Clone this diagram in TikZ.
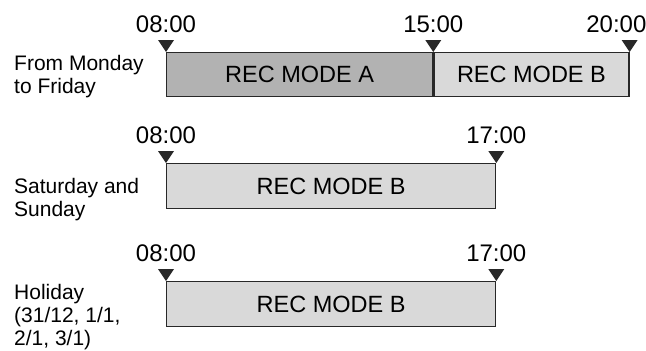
\documentclass[tikz,border=0pt]{standalone}
\usepackage{fontspec}
\setmainfont{Liberation Sans}
\usetikzlibrary{positioning}
\definecolor{darkfill}{RGB}{178,178,178}
\definecolor{lightfill}{RGB}{217,217,217}
\definecolor{edgegray}{RGB}{40,40,40}
\tikzset{
  recbox/.style={draw=edgegray, line width=1.3pt, inner sep=0pt, anchor=north west,
    minimum height=44pt, font=\fontsize{23.5}{28}\selectfont},
  timelbl/.style={anchor=base, inner sep=0pt, font=\fontsize{24}{28}\selectfont},
  daylbl/.style={anchor=base west, inner sep=0pt, align=left, font=\fontsize{21}{23}\selectfont},
  marker/.style={fill=edgegray}
}
\newcommand{\tick}[1]{\fill[marker] (#1) -- ++(-8,-12) -- ++(16,0) -- cycle;}
\begin{document}
\begin{tikzpicture}[x=1pt,y=-1pt]
  \useasboundingbox (0,0) rectangle (646,351);
  % monday to friday
  \node[daylbl] (weekday) at (14,93) {From Monday\\to Friday};
  \node[recbox, fill=darkfill, minimum width=266pt] (modeA) at (166,52) {REC MODE A};
  \node[recbox, fill=lightfill, minimum width=195pt] (modeB) at (modeA.north east) {REC MODE B};
  \tick{modeA.north west} \tick{modeA.north east} \tick{modeB.north east}
  \node[timelbl] (tA) at ([yshift=20pt]modeA.north west) {08:00};
  \node[timelbl] (tB) at ([yshift=20pt]modeA.north east) {15:00};
  \node[timelbl, anchor=base east] (tC) at ([xshift=17pt,yshift=20pt]modeB.north east) {20:00};
  % weekend
  \node[daylbl] (weekend) at (14,216) {Saturday and\\Sunday};
  \node[recbox, fill=lightfill, minimum width=329pt, minimum height=45pt] (modeW) at (166,163) {REC MODE B};
  \tick{modeW.north west} \tick{modeW.north east}
  \node[timelbl] (tW1) at ([yshift=20pt]modeW.north west) {08:00};
  \node[timelbl] (tW2) at ([yshift=20pt]modeW.north east) {17:00};
  % holiday
  \node[daylbl] (holiday) at (14,345) {Holiday\\(31/12, 1/1,\\2/1, 3/1)};
  \node[recbox, fill=lightfill, minimum width=329pt, minimum height=45pt] (modeH) at (166,281) {REC MODE B};
  \tick{modeH.north west} \tick{modeH.north east}
  \node[timelbl] (tH1) at ([yshift=20pt]modeH.north west) {08:00};
  \node[timelbl] (tH2) at ([yshift=20pt]modeH.north east) {17:00};
\end{tikzpicture}
\end{document}
